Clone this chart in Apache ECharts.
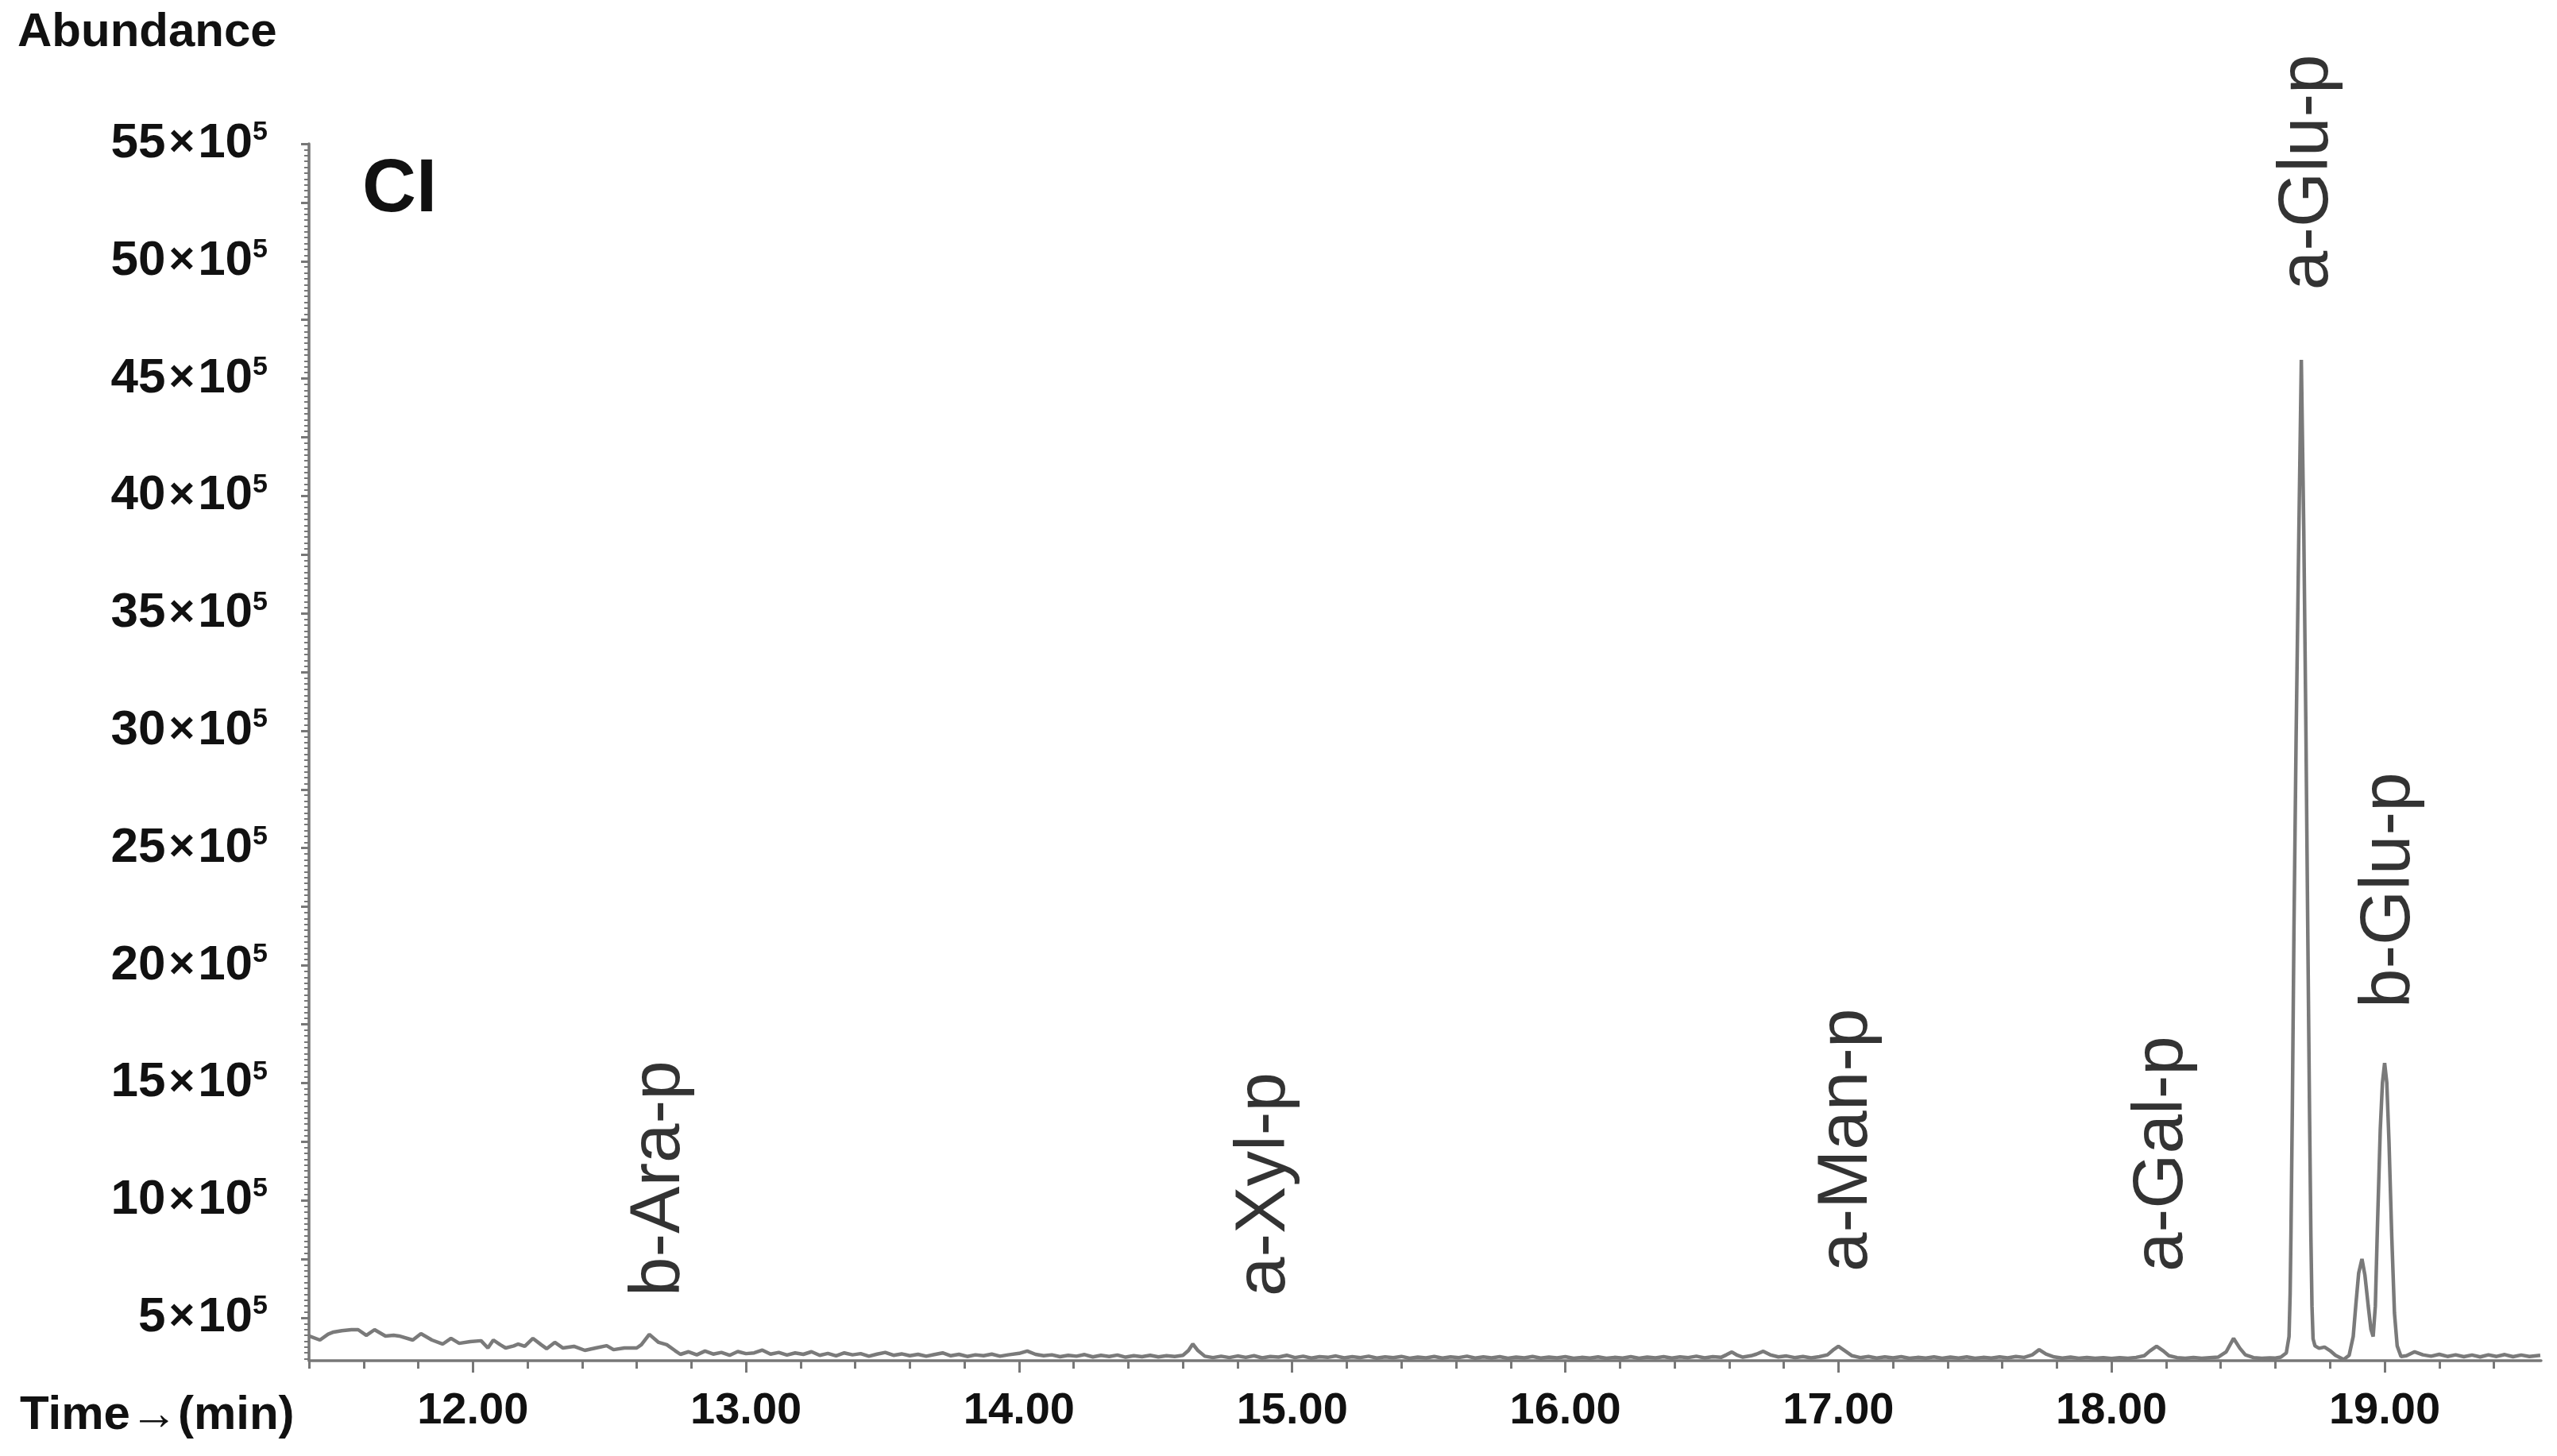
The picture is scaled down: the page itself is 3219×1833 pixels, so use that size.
<!DOCTYPE html>
<html>
<head>
<meta charset="utf-8">
<script src="https://cdn.jsdelivr.net/npm/echarts@6/dist/echarts.min.js"></script>
<style>
html,body{margin:0;padding:0;background:#fff;}
#chart{width:3219px;height:1833px;}
</style>
</head>
<body>
<div id="chart"></div>
<script>
// Retention time (min)
const rt = [
11.40,11.44,11.47,11.49,11.52,11.555,11.58,11.61,11.64,11.68,11.71,11.73,11.78,11.81,11.85,11.89,11.92,11.95,11.99,12.03,
12.055,12.075,12.10,12.12,12.15,12.166,12.19,12.22,12.25,12.27,12.30,12.33,12.37,12.41,12.45,12.49,12.515,12.555,12.60,12.617,
12.646,12.68,12.71,12.74,12.76,12.79,12.82,12.85,12.88,12.91,12.94,12.97,13.00,13.03,13.06,13.09,13.12,13.15,13.18,13.21,
13.24,13.27,13.30,13.33,13.36,13.39,13.42,13.45,13.48,13.51,13.54,13.57,13.60,13.63,13.66,13.69,13.72,13.75,13.78,13.81,
13.84,13.87,13.90,13.93,13.96,14.00,14.03,14.06,14.09,14.12,14.15,14.18,14.21,14.24,14.27,14.30,14.33,14.36,14.39,14.42,
14.45,14.48,14.51,14.54,14.57,14.60,14.62,14.636,14.655,14.68,14.71,14.74,14.77,14.80,14.83,14.86,14.89,14.92,14.95,14.98,
15.01,15.04,15.07,15.10,15.13,15.16,15.19,15.22,15.25,15.28,15.31,15.34,15.37,15.40,15.43,15.46,15.49,15.52,15.55,15.58,
15.61,15.64,15.67,15.70,15.73,15.76,15.79,15.82,15.85,15.88,15.91,15.94,15.97,16.00,16.03,16.06,16.09,16.12,16.15,16.18,
16.21,16.24,16.27,16.30,16.33,16.36,16.39,16.42,16.45,16.48,16.51,16.54,16.57,16.59,16.61,16.63,16.65,16.68,16.70,16.725,
16.75,16.78,16.81,16.84,16.87,16.90,16.93,16.96,16.98,17.00,17.02,17.05,17.08,17.11,17.14,17.17,17.20,17.23,17.26,17.29,
17.32,17.35,17.38,17.41,17.44,17.47,17.50,17.53,17.56,17.59,17.62,17.65,17.68,17.71,17.735,17.76,17.79,17.82,17.85,17.88,
17.91,17.94,17.97,18.00,18.03,18.06,18.09,18.12,18.14,18.165,18.19,18.21,18.24,18.27,18.30,18.33,18.36,18.39,18.42,18.447,
18.47,18.49,18.52,18.55,18.58,18.60,18.62,18.64,18.650,18.654,18.657,18.662,18.668,18.676,18.686,18.695,18.704,18.712,18.719,18.725,
18.730,18.734,18.738,18.745,18.760,18.780,18.800,18.820,18.850,18.870,18.885,18.895,18.905,18.917,18.928,18.940,18.950,18.958,18.966,18.974,
18.984,18.992,19.000,19.008,19.016,19.026,19.036,19.046,19.060,19.080,19.110,19.140,19.170,19.200,19.230,19.260,19.290,19.320,19.350,19.380,
19.410,19.440,19.470,19.500,19.530,19.570
];
// Abundance (x10^5)
const abundance = [
4.22,4.05,4.30,4.39,4.45,4.49,4.49,4.25,4.49,4.22,4.25,4.22,4.05,4.32,4.05,3.88,4.12,3.91,3.98,4.02,
3.71,4.05,3.85,3.71,3.80,3.88,3.78,4.12,3.85,3.68,3.95,3.71,3.78,3.61,3.71,3.81,3.64,3.71,3.71,3.85,
4.29,3.95,3.85,3.60,3.44,3.55,3.42,3.58,3.45,3.52,3.40,3.56,3.47,3.50,3.62,3.45,3.52,3.41,3.50,3.44,
3.55,3.40,3.48,3.38,3.50,3.42,3.47,3.36,3.45,3.52,3.40,3.46,3.38,3.44,3.36,3.43,3.50,3.38,3.44,3.35,
3.42,3.38,3.45,3.36,3.42,3.48,3.58,3.44,3.38,3.42,3.34,3.40,3.36,3.43,3.33,3.40,3.35,3.41,3.32,3.38,
3.34,3.40,3.33,3.38,3.35,3.40,3.60,3.88,3.60,3.36,3.30,3.36,3.30,3.37,3.31,3.38,3.29,3.35,3.32,3.40,
3.30,3.36,3.28,3.34,3.31,3.37,3.29,3.34,3.30,3.36,3.28,3.33,3.30,3.35,3.27,3.32,3.29,3.35,3.28,3.33,
3.30,3.36,3.28,3.33,3.29,3.34,3.27,3.32,3.29,3.35,3.28,3.32,3.29,3.34,3.27,3.31,3.28,3.33,3.27,3.31,
3.28,3.34,3.27,3.32,3.29,3.34,3.28,3.33,3.30,3.36,3.29,3.34,3.31,3.42,3.54,3.40,3.32,3.38,3.45,3.57,
3.42,3.33,3.37,3.30,3.35,3.29,3.34,3.42,3.62,3.78,3.62,3.38,3.30,3.35,3.28,3.33,3.29,3.34,3.27,3.31,
3.28,3.33,3.27,3.32,3.28,3.33,3.27,3.31,3.28,3.33,3.29,3.35,3.31,3.42,3.64,3.45,3.33,3.28,3.32,3.27,
3.31,3.27,3.30,3.26,3.30,3.27,3.31,3.38,3.58,3.78,3.58,3.38,3.30,3.27,3.31,3.27,3.30,3.32,3.55,4.12,
3.70,3.42,3.30,3.27,3.29,3.28,3.32,3.50,4.20,6.00,8.50,13.80,21.50,29.80,38.50,45.80,38.50,29.80,21.00,13.80,
8.50,5.50,4.10,3.80,3.70,3.75,3.60,3.40,3.22,3.40,4.20,5.60,6.90,7.50,6.80,5.50,4.50,4.20,5.50,9.00,
13.00,15.00,15.85,15.00,12.50,8.50,5.20,3.80,3.35,3.38,3.55,3.42,3.36,3.44,3.35,3.42,3.34,3.41,3.33,3.42,
3.35,3.43,3.34,3.41,3.35,3.40
];
// Peak annotations
const peakNames = ['b-Ara-p', 'a-Xyl-p', 'a-Man-p', 'a-Gal-p', 'a-Glu-p', 'b-Glu-p'];
const peakLabelTime = [12.684, 14.90, 17.033, 18.186, 18.718, 19.018];
const peakLabelBase = [5.91, 5.91, 6.96, 6.96, 48.77, 18.19];
// Axis labels
const yLabelValues = [5, 10, 15, 20, 25, 30, 35, 40, 45, 50, 55];
const xLabelValues = [12, 13, 14, 15, 16, 17, 18, 19];

const X_MIN = 11.4, X_MAX = 19.573, Y_MIN = 3.17, Y_MAX = 55;
const xMinorTicks = []; for (let i = 0; i <= 40; i++) xMinorTicks.push(+(11.4 + i * 0.2).toFixed(2));
const yMajorTicks = []; for (let v = 5; v <= 55; v += 2.5) yMajorTicks.push(v);
const yMinorTicks = []; for (let i = 13; i <= 220; i++) yMinorTicks.push(+(i * 0.25).toFixed(2));

const AX = '#777777';
const FONT = "'Liberation Sans', Arial, sans-serif";
const chart = echarts.init(document.getElementById('chart'), null, {renderer: 'canvas'});
chart.setOption({
  backgroundColor: '#ffffff',
  animation: false,
  grid: {left: 389, right: 20, top: 181, bottom: 120, outerBoundsMode: 'none'},
  xAxis: [
    {
      type: 'value', min: X_MIN, max: X_MAX, position: 'bottom',
      axisLine: {show: true, lineStyle: {color: AX, width: 3.5}},
      axisTick: {show: true, customValues: xLabelValues, length: 15, lineStyle: {color: AX, width: 3}},
      axisLabel: {show: true, customValues: xLabelValues, margin: 36,
        formatter: v => v.toFixed(2),
        fontFamily: FONT, fontWeight: 'bold', fontSize: 56, color: '#111'},
      splitLine: {show: false}
    },
    {
      type: 'value', min: X_MIN, max: X_MAX, position: 'bottom', offset: 0,
      axisLine: {show: false},
      axisTick: {show: true, customValues: xMinorTicks, length: 10, lineStyle: {color: AX, width: 3}},
      axisLabel: {show: false},
      splitLine: {show: false}
    }
  ],
  yAxis: [
    {
      type: 'value', min: Y_MIN, max: Y_MAX, position: 'left',
      axisLine: {show: true, lineStyle: {color: AX, width: 3.5}},
      axisTick: {show: true, customValues: yMajorTicks, length: 10, lineStyle: {color: AX, width: 3}},
      axisLabel: {show: true, customValues: yLabelValues, margin: 52,
        formatter: v => '{n|' + v + '}{x|×}{n|10}{s|5}',
        rich: {
          n: {fontFamily: FONT, fontWeight: 'bold', fontSize: 62, lineHeight: 62, color: '#111'},
          x: {fontFamily: FONT, fontWeight: 'bold', fontSize: 56, lineHeight: 62, color: '#111', padding: [0, 4, 0, 4]},
          s: {fontFamily: FONT, fontWeight: 'bold', fontSize: 34, lineHeight: 50, verticalAlign: 'top', color: '#111'}
        }},
      splitLine: {show: false}
    },
    {
      type: 'value', min: Y_MIN, max: Y_MAX, position: 'left', offset: 0,
      axisLine: {show: false},
      axisTick: {show: true, customValues: yMinorTicks, length: 6, lineStyle: {color: AX, width: 2}},
      axisLabel: {show: false},
      splitLine: {show: false}
    }
  ],
  series: [
    {
      type: 'line', xAxisIndex: 0, yAxisIndex: 0,
      data: rt.map((t, i) => [t, abundance[i]]),
      showSymbol: false, symbol: 'none', smooth: false,
      lineStyle: {color: '#7a7a7a', width: 4.5},
      z: 3
    },
    {
      type: 'scatter', xAxisIndex: 0, yAxisIndex: 0,
      symbolSize: 0, silent: true,
      data: peakNames.map((n, i) => ({value: [peakLabelTime[i], peakLabelBase[i]], name: n})),
      label: {
        show: true, position: [0, 0], rotate: 90, align: 'left', verticalAlign: 'middle',
        formatter: p => p.name,
        fontFamily: FONT, fontSize: 89, color: '#000'
      },
      z: 4
    }
  ],
  graphic: [
    {type: 'text', x: 22, y: 41, style: {text: 'Abundance', font: "bold 60px " + FONT, fill: '#111', verticalAlign: 'middle', align: 'left'}},
    {type: 'text', x: 25, y: 1782, style: {text: 'Time\u2192(min)', font: "bold 60px " + FONT, fill: '#111', verticalAlign: 'middle', align: 'left'}},
    {type: 'text', x: 456, y: 240, style: {text: 'CI', font: "bold 94px " + FONT, fill: '#111', verticalAlign: 'middle', align: 'left'}}
  ]
});
</script>
</body>
</html>
